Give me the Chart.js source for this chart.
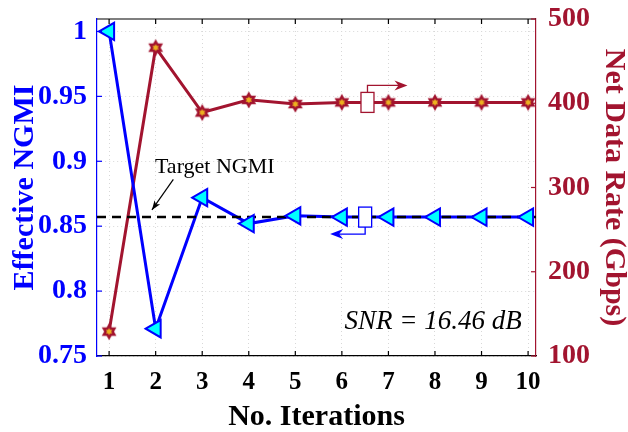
<!DOCTYPE html>
<html>
<head>
<meta charset="utf-8">
<script src="https://cdn.jsdelivr.net/npm/chart.js@4.4.1/dist/chart.umd.min.js"></script>
<style>
html,body{margin:0;padding:0;background:#fff;}
#wrap{width:628px;height:432px;}
</style>
</head>
<body>
<div id="wrap"><canvas id="myChart"></canvas></div>
<script>
const iterations = [1, 2, 3, 4, 5, 6, 7, 8, 9, 10];
const ngmi = [1.0, 0.771, 0.872, 0.852, 0.858, 0.857, 0.857, 0.857, 0.857, 0.857];
const rate = [129, 466, 389, 404, 399, 401, 401, 401, 401, 401];
const ngmiTicks = [0.75, 0.8, 0.85, 0.9, 0.95, 1];
const targetNgmi = 0.857;
const snrText = "SNR = 16.46 dB";
const targetText = "Target NGMI";

const blue = "#0000ff";
const red = "#a2142f";
const serif = "'Liberation Serif', 'Times New Roman', serif";

function hexagram(g, x, y, r, color){
    g.fillStyle = color;
    for (let k = 0; k < 2; k++){
        g.beginPath();
        for (let i = 0; i < 3; i++){
            let a = (-90 + k*180 + i*120) * Math.PI/180;
            let px = x + r*Math.cos(a), py = y + r*Math.sin(a);
            if (i === 0) g.moveTo(px, py); else g.lineTo(px, py);
        }
        g.closePath();
        g.fill();
    }
}

function starMarker(){
    let c = document.createElement("canvas");
    c.width = 20; c.height = 20;
    let g = c.getContext("2d");
    hexagram(g, 10, 10, 8.5, red);
    hexagram(g, 10, 10, 3.6, "#edb120");
    return c;
}

let ngmiPts = iterations.map((v, i) => ({x: v, y: ngmi[i]}));
let ratePts = iterations.map((v, i) => ({x: v, y: rate[i]}));

function arrowHead(ctx, x, y, dir, color){
    // dir = 1 right, -1 left
    ctx.fillStyle = color;
    ctx.beginPath();
    ctx.moveTo(x, y);
    ctx.lineTo(x - dir*13, y - 5);
    ctx.lineTo(x - dir*9, y);
    ctx.lineTo(x - dir*13, y + 5);
    ctx.closePath();
    ctx.fill();
}

// keep the plot box where the reference has it
function noPad(s){ s.paddingTop = 0; s.paddingBottom = 0; s.paddingLeft = 0; s.paddingRight = 0; }

const extras = {
    id: "extras",
    afterDatasetDraw(chart, args){
        if (args.index !== 1) return;
        const ctx = chart.ctx, a = chart.chartArea;
        let py = chart.scales.y.getPixelForValue(targetNgmi);
        ctx.save();
        ctx.strokeStyle = "#000";
        ctx.lineWidth = 2.5;
        ctx.setLineDash([9, 6]);
        ctx.beginPath();
        ctx.moveTo(a.left, py);
        ctx.lineTo(a.right, py);
        ctx.stroke();
        ctx.restore();
    },
    afterDraw(chart){
        const ctx = chart.ctx, a = chart.chartArea;
        const xs = chart.scales.x, ys = chart.scales.y, y1 = chart.scales.y1;
        ctx.save();
        // top border
        ctx.strokeStyle = "#000";
        ctx.lineWidth = 1.2;
        ctx.beginPath();
        ctx.moveTo(a.left, a.top);
        ctx.lineTo(a.right, a.top);
        ctx.stroke();
        // inward ticks
        iterations.forEach(v => {
            let px = xs.getPixelForValue(v);
            ctx.beginPath();
            ctx.moveTo(px, a.bottom); ctx.lineTo(px, a.bottom - 5);
            ctx.moveTo(px, a.top); ctx.lineTo(px, a.top + 5);
            ctx.stroke();
        });
        ctx.strokeStyle = blue;
        ngmiTicks.forEach(v => {
            let py = ys.getPixelForValue(v);
            ctx.beginPath();
            ctx.moveTo(a.left, py); ctx.lineTo(a.left + 5, py);
            ctx.stroke();
        });
        ctx.strokeStyle = red;
        y1.ticks.forEach(t => {
            let py = y1.getPixelForValue(t.value);
            ctx.beginPath();
            ctx.moveTo(a.right, py); ctx.lineTo(a.right - 5, py);
            ctx.stroke();
        });

        // legend boxes with arrows
        let rx = xs.getPixelForValue(6.55), ry = y1.getPixelForValue(rate[5]);
        ctx.lineWidth = 1.3;
        ctx.strokeStyle = red;
        ctx.fillStyle = "#fff";
        ctx.fillRect(rx - 6.5, ry - 10, 13, 20);
        ctx.strokeRect(rx - 6.5, ry - 10, 13, 20);
        ctx.beginPath();
        ctx.moveTo(rx, ry - 10); ctx.lineTo(rx, ry - 17); ctx.lineTo(rx + 36, ry - 17);
        ctx.stroke();
        arrowHead(ctx, rx + 40, ry - 17, 1, red);

        let bx = xs.getPixelForValue(6.5), by = ys.getPixelForValue(ngmi[5]);
        ctx.strokeStyle = blue;
        ctx.fillStyle = "#fff";
        ctx.fillRect(bx - 6.5, by - 10, 13, 20);
        ctx.strokeRect(bx - 6.5, by - 10, 13, 20);
        ctx.beginPath();
        ctx.moveTo(bx, by + 10); ctx.lineTo(bx, by + 17); ctx.lineTo(bx - 31, by + 17);
        ctx.stroke();
        arrowHead(ctx, bx - 35, by + 17, -1, blue);

        // target label + arrow
        ctx.fillStyle = "#000";
        ctx.font = "22px " + serif;
        ctx.textAlign = "center";
        ctx.textBaseline = "middle";
        ctx.fillText(targetText, xs.getPixelForValue(3.27), ys.getPixelForValue(0.8958));
        let x0 = xs.getPixelForValue(2.38), y0 = ys.getPixelForValue(0.886);
        let x1 = xs.getPixelForValue(1.92), y1p = ys.getPixelForValue(0.8625);
        ctx.strokeStyle = "#000";
        ctx.lineWidth = 1.2;
        ctx.beginPath();
        ctx.moveTo(x0, y0); ctx.lineTo(x1, y1p);
        ctx.stroke();
        let ang = Math.atan2(y1p - y0, x1 - x0);
        ctx.beginPath();
        ctx.moveTo(x1, y1p);
        ctx.lineTo(x1 - 10*Math.cos(ang - 0.35), y1p - 10*Math.sin(ang - 0.35));
        ctx.lineTo(x1 - 7*Math.cos(ang), y1p - 7*Math.sin(ang));
        ctx.lineTo(x1 - 10*Math.cos(ang + 0.35), y1p - 10*Math.sin(ang + 0.35));
        ctx.closePath();
        ctx.fill();

        // SNR label
        ctx.font = "italic 27px " + serif;
        ctx.fillText(snrText, xs.getPixelForValue(7.96), ys.getPixelForValue(0.776));
        ctx.restore();
    }
};

new Chart("myChart", {
    type: "line",
    data: {
        datasets: [
            {
                label: "NGMI markers",
                data: ngmiPts,
                yAxisID: "y",
                showLine: false,
                pointStyle: "triangle",
                pointRotation: -90,
                pointRadius: 10,
                pointBackgroundColor: "#00ffff",
                pointBorderColor: blue,
                pointBorderWidth: 2
            },
            {
                label: "NGMI",
                data: ngmiPts,
                yAxisID: "y",
                borderColor: blue,
                borderWidth: 3,
                pointRadius: 0,
                tension: 0
            },
            {
                label: "Rate",
                data: ratePts,
                yAxisID: "y1",
                borderColor: red,
                borderWidth: 3,
                pointStyle: starMarker(),
                pointRadius: 9,
                tension: 0
            }
        ]
    },
    options: {
        responsive: true,
        maintainAspectRatio: false,
        animation: false,
        devicePixelRatio: 1,
        layout: {padding: {top: 19, left: 0, right: 0, bottom: 0}},
        plugins: {legend: {display: false}, tooltip: {enabled: false}},
        scales: {
            x: {
                type: "linear",
                min: 0.74,
                max: 10.17,
                afterBuildTicks: s => { s.ticks = iterations.map(v => ({value: v})); },
                afterFit: s => { s.height = 76; noPad(s); },
                grid: {color: "#d8d8d8", lineWidth: 1, drawTicks: false},
                border: {color: "#000", width: 1.2, dash: [1, 3]},
                ticks: {color: "#000", padding: 12, font: {family: serif, weight: "bold", size: 25}, maxRotation: 0},
                title: {display: true, text: "No. Iterations", color: "#000", padding: {top: 0, bottom: -3}, font: {family: serif, weight: "bold", size: 30}}
            },
            y: {
                position: "left",
                min: 0.75,
                max: 1.0096,
                afterBuildTicks: s => { s.ticks = ngmiTicks.map(v => ({value: v})); },
                afterFit: s => { s.width = 97; noPad(s); },
                grid: {color: "#d8d8d8", lineWidth: 1, drawTicks: false},
                border: {color: blue, width: 1.2, dash: [1, 3]},
                ticks: {color: blue, padding: 10, font: {family: serif, weight: "bold", size: 28}, callback: v => String(v)},
                title: {display: true, text: "Effective NGMI", color: blue, padding: {top: 7, bottom: 0}, font: {family: serif, weight: "bold", size: 30}}
            },
            y1: {
                position: "right",
                min: 100,
                max: 500,
                afterFit: s => { s.width = 92; noPad(s); },
                grid: {drawOnChartArea: false, drawTicks: false},
                border: {color: red, width: 1.2},
                ticks: {color: red, stepSize: 100, padding: 12, font: {family: serif, weight: "bold", size: 28}},
                title: {display: true, text: "Net Data Rate (Gbps)", color: red, padding: {top: -4, bottom: 0}, font: {family: serif, weight: "bold", size: 30}}
            }
        }
    },
    plugins: [extras]
});
</script>
</body>
</html>
